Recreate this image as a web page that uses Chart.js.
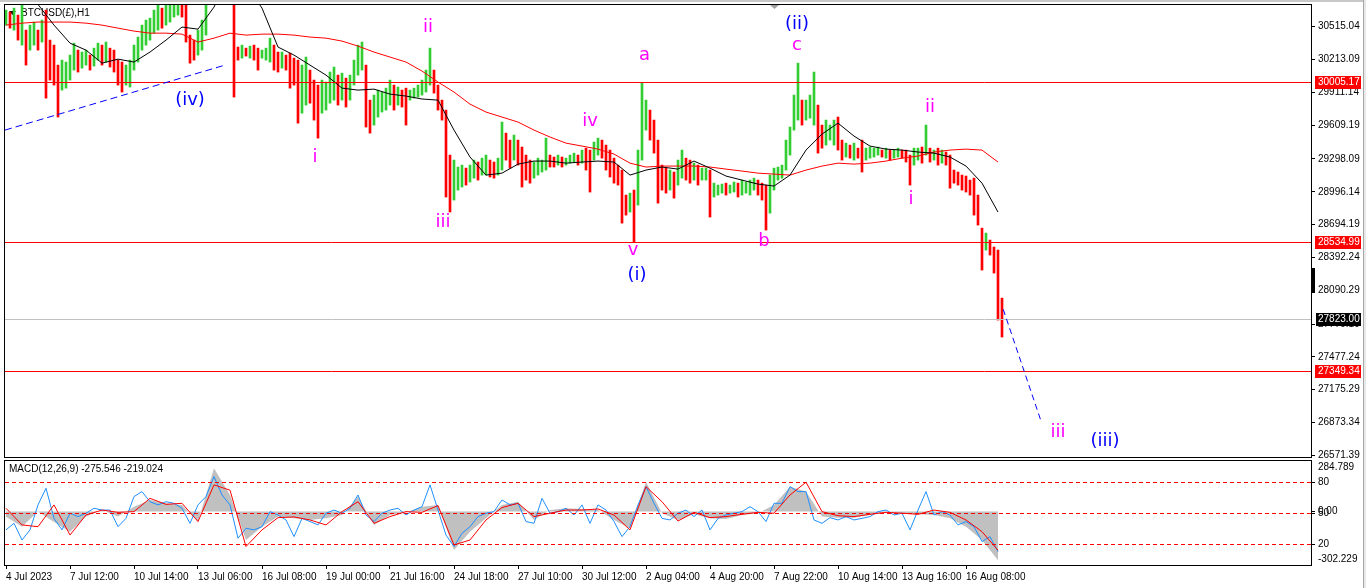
<!DOCTYPE html>
<html><head><meta charset="utf-8">
<script src="https://cdn.jsdelivr.net/npm/chart.js@4.4.1/dist/chart.umd.min.js"></script>
<style>
html,body{margin:0;padding:0;background:#fff;overflow:hidden;}
#wrap{position:relative;width:1366px;height:588px;background:#fff;}
canvas{position:absolute;left:0;}
#main{top:0;}
#macd{top:458px;}
#topbar{position:absolute;left:0;top:0;width:1366px;height:2px;background:#c8c8c8;}
#rightbar{position:absolute;left:1363px;top:0;width:3px;height:588px;background:#e8e8e8;border-left:1px solid #a8a8a8;box-sizing:border-box;}
</style></head><body>
<div id="wrap">
<canvas id="main" width="1366" height="458"></canvas>
<canvas id="macd" width="1366" height="130"></canvas>
<div id="topbar"></div><div id="rightbar"></div>
</div>
<script>
// ---------------- DATA ----------------
// 4-hour aggregated bars (high / low)
const highs = [30668,30650,30686,30622,30740,30484,30530,30558,30484,30576,
30668,30392,30346,30162,30208,30190,30254,30364,30300,30282,
30300,30254,30318,30364,30346,30374,30318,30300,30208,30190,
30162,30208,30346,30420,30530,30576,30594,30668,30714,30686,
30714,30714,30742,30760,30732,30714,30438,30392,30484,30576,
30714,30820,30950,31000,31050,31020,30980,30900,30328,30346,
30318,30337,30346,30318,30300,30318,30410,30346,30282,30282,
30254,30272,30226,30208,30162,30236,30116,30024,29978,30024,
30006,30098,30144,30070,30088,30042,30070,30208,30346,30374,
30162,29840,29886,29932,29914,29950,30024,29978,29960,29932,
29950,29932,29950,29978,30024,30116,30318,30116,29978,29840,
29748,29334,29288,29224,29242,29214,29242,29288,29270,29306,
29334,29288,29270,29306,29638,29536,29472,29518,29472,29408,
29334,29288,29270,29306,29288,29490,29334,29316,29334,29316,
29306,29334,29352,29334,29380,29398,29380,29454,29490,29472,
29426,29380,29306,29242,29196,28966,28984,29012,29380,29996,
29840,29748,29656,29472,29242,29214,29196,29178,29288,29380,
29306,29288,29260,29242,29214,29214,29196,29076,29058,29067,
29076,29058,29086,29076,29104,29086,29104,29122,29104,29076,
29058,29150,29214,29224,29242,29472,29592,29886,30180,29840,
29840,29886,30098,29794,29610,29656,29610,29656,29684,29472,
29444,29426,29444,29398,29472,29398,29408,29398,29408,29380,
29398,29380,29380,29398,29380,29380,29334,29398,29398,29408,
29610,29398,29380,29398,29380,29362,29334,29196,29178,29150,
29141,29104,29122,28966,28662,28616,28552,28488,28460,28018];
const lows = [30530,30502,30484,30392,30346,30162,30300,30346,30300,30374,
29858,30024,29978,29684,29932,29950,30024,30116,30098,30134,
30162,30116,30153,30208,30162,30190,30144,30098,29978,29914,
29978,29960,30116,30190,30300,30346,30392,30456,30484,30502,
30530,30558,30604,30622,30604,30374,30180,30208,30254,30300,
30438,30730,30780,30850,30880,30850,30800,29868,30208,30226,
30245,30226,30208,30116,30226,30208,30190,30116,30098,30134,
30116,29950,29978,29628,29720,29794,29812,29656,29490,29720,
29748,29812,29840,29794,29840,29776,29840,29978,30070,30116,
29592,29536,29610,29684,29730,29748,29794,29748,29794,29776,
29610,29840,29858,29868,29886,29914,29978,29904,29748,29656,
28948,28810,28920,29012,29040,29058,29086,29122,29104,29150,
29150,29132,29122,29150,29196,29288,29214,29288,29242,29040,
29104,29076,29122,29150,29178,29196,29224,29224,29242,29224,
29242,29260,29270,29242,29260,29196,28994,29288,29334,29306,
29196,29132,29076,29058,28708,28782,28810,28534,28874,29288,
29564,29472,29352,28892,29012,28984,29012,28938,29058,29122,
29104,29076,29104,29058,29104,29104,28764,28948,28966,28984,
28966,28984,28994,28948,28966,28984,28966,29012,28966,28920,
28644,28800,29012,29104,29122,29196,29334,29564,29656,29610,
29656,29674,29610,29352,29398,29426,29472,29426,29380,29288,
29316,29306,29288,29306,29178,29288,29306,29316,29334,29316,
29306,29288,29306,29316,29306,29270,29058,29242,29288,29260,
29334,29270,29288,29242,29260,29242,29030,29076,29058,29012,
28994,28966,28782,28690,28276,28460,28414,28248,27816,27660];

// moving averages, one value every 4 bars
const fastMA = [30950,30800,30720,30530,30364,30300,30180,30217,30190,30282,
30392,30512,30493,30696,31000,30900,30686,30328,30254,30162,
30070,29950,29932,29941,29895,29877,29850,29840,29564,29316,
29150,29168,29251,29279,29279,29260,29270,29279,29270,29150,
29196,29224,29205,29279,29214,29141,29104,29067,29049,29150,
29380,29527,29628,29509,29417,29389,29380,29362,29352,29316,
29233,29076,28810];
const slowMA = [30530,30548,30558,30558,30558,30548,30530,30502,30475,30456,
30456,30447,30374,30410,30456,30438,30447,30447,30438,30420,
30410,30383,30337,30282,30236,30190,30107,30006,29914,29803,
29730,29684,29638,29564,29500,29444,29417,29389,29343,29260,
29224,29233,29233,29233,29224,29205,29187,29168,29159,29150,
29196,29233,29260,29251,29260,29279,29306,29325,29362,29380,
29389,29380,29270];

// MACD panel: histogram & signal every 4 bars, fast line every 2 bars
const macdHist = [-30,-86,0,-60,-114,-29,8,-29,27,65,
46,37,-57,244,93,-161,-86,-29,-39,-48,
-39,-20,84,-76,-20,-5,27,37,-217,-114,
-39,37,55,-48,8,18,14,8,-48,-95,
168,-10,-48,-16,-39,-42,-20,-10,37,140,
112,-29,-35,-35,-20,-5,-10,-16,-20,-39,
-86,-161,-276];
const macdSignal = [18,-76,-86,37,-133,-20,8,-5,-1,74,
40,46,-57,150,120,-198,-104,-35,-31,-48,
-76,-1,55,-67,-29,-1,-5,33,-189,-161,
-48,22,46,-29,-10,8,8,14,-20,-104,
140,55,-54,-5,-35,-29,-16,-5,-10,93,
165,-1,-24,-29,-16,-5,-10,-16,8,-5,
-48,-114,-219];
const macdFast = [-104,-67,-161,-104,37,131,-39,-104,-10,-29,
-10,18,8,8,-86,-39,84,112,55,37,
55,46,18,-67,37,84,197,93,37,-151,
-95,-104,-86,-1,-20,-48,-142,-39,-57,-76,
-10,8,-10,18,93,-20,-57,-10,8,18,
-20,8,27,150,8,-133,-198,-123,-86,-29,
-10,-1,65,37,46,-57,-67,74,-10,-1,
18,-20,37,-67,37,8,-57,-142,-86,37,
140,46,-39,-48,-10,8,-29,8,-104,-39,
-20,-10,-1,27,-1,-57,46,46,140,112,
112,-48,-67,-35,-48,-29,-48,-39,-29,-1,
8,-20,-10,-104,8,112,-20,-1,-20,-76,
-57,-86,-170,-142,-227];

const priceTicks = [30515.04,30213.09,29911.14,29609.19,29298.09,28996.14,28694.19,
28392.24,28090.29,27779.19,27477.24,27175.29,26873.34,26571.39];
const timeLabels = ['4 Jul 2023','7 Jul 12:00','10 Jul 14:00','13 Jul 06:00','16 Jul 08:00',
'19 Jul 00:00','21 Jul 16:00','24 Jul 18:00','27 Jul 10:00','30 Jul 12:00','2 Aug 04:00',
'4 Aug 20:00','7 Aug 22:00','10 Aug 14:00','13 Aug 16:00','16 Aug 08:00'];
const levels = [30005.17, 28534.99, 27349.34];
const lastPrice = 27823.00;
const macdRange = [-302.229, 284.789];
const stochLevels = [80, 50, 20];
const macdTitle = 'MACD(12,26,9) -275.546 -219.024';
const chartTitle = 'BTCUSD(£),H1';

// Elliott wave labels anchored at (bar index, price)
const waveLabels = [
 {text:'(iv)', bar:46, price:29840, c:'#0000ff'},
 {text:'i', bar:77.25, price:29316, c:'#ff00ff'},
 {text:'ii', bar:105.5, price:30512, c:'#ff00ff'},
 {text:'iii', bar:109.25, price:28718, c:'#ff00ff'},
 {text:'iv', bar:146, price:29647, c:'#ff00ff'},
 {text:'a', bar:159.6, price:30254, c:'#ff00ff'},
 {text:'v', bar:156.75, price:28460, c:'#ff00ff'},
 {text:'(i)', bar:157.75, price:28230, c:'#0000ff'},
 {text:'(ii)', bar:197.75, price:30539, c:'#0000ff'},
 {text:'c', bar:197.75, price:30346, c:'#ff00ff'},
 {text:'b', bar:189.5, price:28543, c:'#ff00ff'},
 {text:'ii', bar:231, price:29776, c:'#ff00ff'},
 {text:'i', bar:226.25, price:28929, c:'#ff00ff'},
 {text:'iii', bar:263, price:26786, c:'#ff00ff'},
 {text:'(iii)', bar:274.75, price:26703, c:'#0000ff'}
];
const trendLines = [
 {from:[-0.25, 29564], to:[54.2, 30156], dash:[7,4]},
 {from:[249.3, 27915], to:[258.9, 26871], dash:[6,4]}
];

// ---------------- RENDER ----------------
const MA_STEP = 4, FAST_STEP = 2, LABEL_EVERY = 16;
const X_MIN = -0.25, X_MAX = 326.25;
const UI = "'Liberation Sans',Arial,sans-serif";
const FS = 10;
const UP = '#32cd32', DN = '#ff0000';

const barColors = highs.map((h, i) => {
  const mid = (h + lows[i]) / 2;
  const prev = i ? (highs[i-1] + lows[i-1]) / 2 : mid;
  return mid >= prev ? UP : DN;
});

const noPad = s => { s.paddingTop = 0; s.paddingBottom = 0; s.paddingLeft = 0; s.paddingRight = 0; };

const mainDeco = {
  id: 'mainDeco',
  beforeDatasetsDraw(chart) {
    const c = chart.ctx;
    c.save();
    c.fillStyle = '#000';
    c.beginPath(); c.moveTo(9, 11); c.lineTo(16, 11); c.lineTo(12.5, 15); c.closePath(); c.fill();
    c.font = FS + 'px ' + UI; c.textAlign = 'left'; c.textBaseline = 'middle';
    c.fillText(chartTitle, 21, 13);
    c.restore();
  },
  afterDatasetsDraw(chart) {
    const c = chart.ctx, a = chart.chartArea, x = chart.scales.x, y = chart.scales.y;
    c.save();
    c.beginPath(); c.rect(a.left, a.top, a.right - a.left, a.bottom - a.top); c.clip();
    const hline = (v, col) => {
      const py = Math.round(y.getPixelForValue(v)) + 0.5;
      c.strokeStyle = col; c.lineWidth = 1; c.setLineDash([]);
      c.beginPath(); c.moveTo(a.left, py); c.lineTo(a.right, py); c.stroke();
    };
    hline(lastPrice, '#c0c0c0');
    levels.forEach(v => hline(v, '#ff0000'));
    trendLines.forEach(t => {
      c.strokeStyle = '#0000ff'; c.lineWidth = 1; c.setLineDash(t.dash);
      c.beginPath();
      c.moveTo(x.getPixelForValue(t.from[0]), y.getPixelForValue(t.from[1]));
      c.lineTo(x.getPixelForValue(t.to[0]), y.getPixelForValue(t.to[1]));
      c.stroke();
    });
    c.setLineDash([]);
    c.font = "18px 'DejaVu Sans', sans-serif"; c.textAlign = 'center'; c.textBaseline = 'middle';
    waveLabels.forEach(l => {
      c.fillStyle = l.c;
      c.fillText(l.text, x.getPixelForValue(l.bar), y.getPixelForValue(l.price));
    });
    c.restore();
    c.save();
    c.fillStyle = '#a0a0a0';
    c.beginPath(); c.moveTo(770, 5); c.lineTo(779, 5); c.lineTo(774.5, 9); c.closePath(); c.fill();
    c.restore();
  },
  afterDraw(chart) {
    const c = chart.ctx, a = chart.chartArea, y = chart.scales.y;
    c.save();
    c.strokeStyle = '#000'; c.lineWidth = 1;
    c.strokeRect(a.left - 0.5, a.top - 0.5, a.right - a.left + 1, a.bottom - a.top + 1);
    c.font = FS + 'px ' + UI; c.textAlign = 'left'; c.textBaseline = 'middle';
    const box = (v, bg, x0) => {
      const py = Math.round(y.getPixelForValue(v));
      c.fillStyle = bg; c.fillRect(x0, py - 6, 1361 - x0, 13);
      c.fillStyle = '#fff'; c.fillText(v.toFixed(2), a.right + 7, py + 0.5);
    };
    levels.forEach(v => box(v, '#ff0000', a.right + 4));
    box(lastPrice, '#000', a.right + 5);
    c.fillStyle = '#000'; c.fillRect(a.right + 1, 268, 3, 25);
    c.restore();
  }
};

new Chart(document.getElementById('main'), {
  type: 'bar',
  data: { datasets: [
    { type:'line', data: fastMA.map((v,i)=>({x:i*MA_STEP, y:v})), borderColor:'#000', borderWidth:1, pointRadius:0, tension:0, order:1 },
    { type:'line', data: slowMA.map((v,i)=>({x:i*MA_STEP, y:v})), borderColor:'#ff0000', borderWidth:1, pointRadius:0, tension:0, order:2 },
    { type:'bar', data: highs.map((h,i)=>({x:i, y:[lows[i], h]})), backgroundColor: barColors, borderWidth:0, barThickness:2, order:3 }
  ]},
  options: {
    responsive:false, animation:false, devicePixelRatio:1, events:[],
    layout:{ padding:{ left:5, top:5, right:0, bottom:1 } },
    plugins:{ legend:{display:false}, tooltip:{enabled:false} },
    scales:{
      x:{ type:'linear', min:X_MIN, max:X_MAX, offset:false, display:false },
      y:{ position:'right', min:26556, max:30715,
          afterBuildTicks: s => { s.ticks = priceTicks.map(v => ({value:v})); },
          afterFit: s => { s.width = 55; noPad(s); },
          ticks:{ autoSkip:false, padding:3, color:'#000', font:{family:UI, size:FS},
                  callback: v => Number(v).toFixed(2) },
          grid:{ drawOnChartArea:false, drawTicks:true, tickLength:4, color:'#000' },
          border:{ display:false } }
    }
  },
  plugins:[mainDeco]
});

const macdDeco = {
  id:'macdDeco',
  afterDatasetsDraw(chart) {
    const c = chart.ctx, a = chart.chartArea, y = chart.scales.y;
    const h = a.bottom - a.top;
    const stochPx = v => a.top + (100 - v) / 100 * h;
    c.save();
    c.strokeStyle = '#ff0000'; c.lineWidth = 1; c.setLineDash([4,3]);
    stochLevels.forEach(v => {
      const py = Math.round(stochPx(v)) + 0.5;
      c.beginPath(); c.moveTo(a.left, py); c.lineTo(a.right, py); c.stroke();
    });
    c.setLineDash([]);
    c.strokeStyle = '#000';
    c.strokeRect(a.left - 0.5, a.top - 0.5, a.right - a.left + 1, a.bottom - a.top + 1);
    c.fillStyle = '#000'; c.font = FS + 'px ' + UI; c.textBaseline = 'middle'; c.textAlign = 'left';
    c.fillText(macdTitle, 9, a.top + 8);
    const tx = a.right + 7;
    const tick = py => { c.beginPath(); c.moveTo(a.right, py + 0.5); c.lineTo(a.right + 4, py + 0.5); c.stroke(); };
    c.fillText(macdRange[1].toFixed(3), tx, a.top + 6);
    c.fillText(macdRange[0].toFixed(3), tx, a.bottom - 6);
    const z = Math.round(y.getPixelForValue(0));
    tick(z); c.fillText('0.00', tx, z);
    stochLevels.forEach(v => { const py = Math.round(stochPx(v)); tick(py); c.fillText(String(v), tx, py); });
    c.restore();
  }
};

new Chart(document.getElementById('macd'), {
  type:'line',
  data:{ datasets:[
    { data: macdSignal.map((v,i)=>({x:i*MA_STEP, y:v})), borderColor:'#ff0000', borderWidth:1, pointRadius:0, order:1 },
    { data: macdFast.map((v,i)=>({x:i*FAST_STEP, y:v})), borderColor:'#1e90ff', borderWidth:1, pointRadius:0, order:2 },
    { data: macdHist.map((v,i)=>({x:i*MA_STEP, y:v})), borderColor:'rgba(0,0,0,0)', borderWidth:0, backgroundColor:'#c0c0c0', fill:'origin', pointRadius:0, order:3 }
  ]},
  options:{
    responsive:false, animation:false, devicePixelRatio:1, events:[],
    layout:{ padding:{ left:5, top:3, right:0, bottom:0 } },
    plugins:{ legend:{display:false}, tooltip:{enabled:false} },
    scales:{
      x:{ type:'linear', min:X_MIN, max:X_MAX, offset:false,
          afterBuildTicks: s => { s.ticks = timeLabels.map((t,i) => ({value: i*LABEL_EVERY})); },
          afterFit: s => { s.height = 23; noPad(s); },
          ticks:{ autoSkip:false, maxRotation:0, align:'start', padding:2, color:'#000', font:{family:UI, size:FS},
                  callback: (v, i) => timeLabels[i] },
          grid:{ drawOnChartArea:false, drawTicks:true, tickLength:4, color:'#000' },
          border:{ display:false } },
      y:{ position:'right', min:macdRange[0], max:macdRange[1],
          afterFit: s => { s.width = 55; noPad(s); },
          ticks:{ display:false }, grid:{ display:false }, border:{ display:false } }
    }
  },
  plugins:[macdDeco]
});
</script>
</body></html>
